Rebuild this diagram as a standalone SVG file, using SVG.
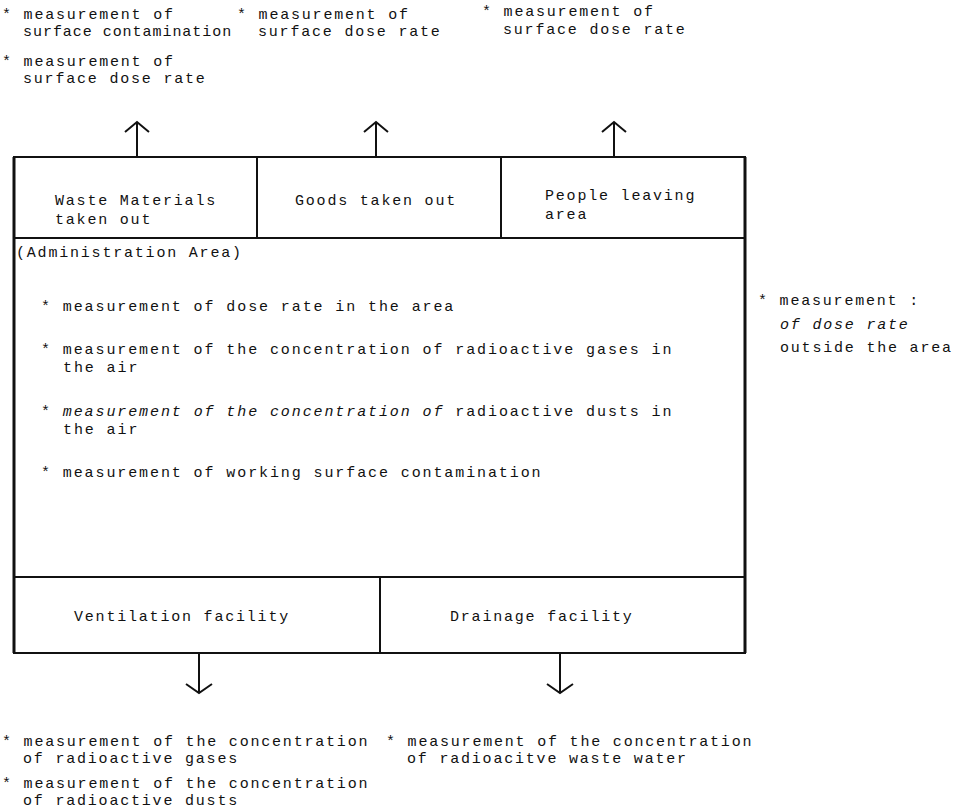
<svg xmlns="http://www.w3.org/2000/svg" width="960" height="810" viewBox="0 0 960 810">
<style>
text{font-family:"Liberation Mono","DejaVu Sans Mono",monospace;font-size:15px;letter-spacing:1.8px;fill:#111}
.item{letter-spacing:1.9px}
.it{font-style:italic}
.box{fill:none;stroke:#111;stroke-width:2}
.edge{fill:none;stroke:#111;stroke-width:3}
.ln{fill:none;stroke:#111;stroke-width:2}
</style>
<rect width="960" height="810" fill="#fff"/>
<g id="notes-top">
<text x="2" y="19">* measurement of <tspan x="23" dy="17" textLength="210">surface contamination</tspan></text>
<text x="2" y="66">* measurement of <tspan x="23" dy="17">surface dose rate</tspan></text>
<text x="237" y="19">* measurement of <tspan x="258" dy="17">surface dose rate</tspan></text>
<text x="482" y="16">* measurement of <tspan x="503" dy="18">surface dose rate</tspan></text>
</g>
<g id="waste">
<rect class="box" x="14" y="157" width="243" height="81"/>
<text x="55" y="205">Waste Materials <tspan x="55" dy="19">taken out</tspan></text>
</g>
<g id="goods">
<rect class="box" x="257" y="157" width="244" height="81"/>
<text x="295" y="205">Goods taken out</text>
</g>
<g id="people">
<rect class="box" x="501" y="157" width="244" height="81"/>
<text x="545" y="200">People leaving <tspan x="545" dy="19">area</tspan></text>
</g>
<g id="admin">
<rect class="box" x="14" y="238" width="731" height="339"/>
<path class="edge" d="M14 157V653M745 157V653"/>
<text x="16" y="257">(Administration Area)</text>
<text class="item" x="41" y="311">* measurement of dose rate in the area</text>
<text class="item" x="41" y="354">* measurement of the concentration of radioactive gases in <tspan x="63" dy="18">the air</tspan></text>
<text class="item" x="41" y="416">* <tspan class="it">measurement of the concentration of</tspan> radioactive dusts in <tspan x="63" dy="18">the air</tspan></text>
<text class="item" x="41" y="477">* measurement of working surface contamination</text>
</g>
<g id="outside">
<text x="758" y="305">* measurement : <tspan x="780" dy="24" class="it">of dose rate</tspan> <tspan x="780" dy="23">outside the area</tspan></text>
</g>
<g id="ventilation">
<rect class="box" x="14" y="577" width="366" height="76"/>
<text x="74" y="621">Ventilation facility</text>
</g>
<g id="drainage">
<rect class="box" x="380" y="577" width="365" height="76"/>
<text x="450" y="621">Drainage facility</text>
</g>
<g id="notes-bottom">
<text x="2" y="746">* measurement of the concentration <tspan x="23" dy="17">of radioactive gases</tspan></text>
<text x="2" y="788">* measurement of the concentration <tspan x="23" dy="17">of radioactive dusts</tspan></text>
<text x="386" y="746">* measurement of the concentration <tspan x="407" dy="17">of radioacitve waste water</tspan></text>
</g>
<g id="connectors" class="ln">
<path d="M137 157V122M125 132L137 122L149 132"/>
<path d="M376 157V122M364 132L376 122L388 132"/>
<path d="M614 157V122M602 132L614 122L626 132"/>
<path d="M199 653V693M186 684L199 693L212 684"/>
<path d="M560 653V693M547 684L560 693L573 684"/>
</g>
</svg>
